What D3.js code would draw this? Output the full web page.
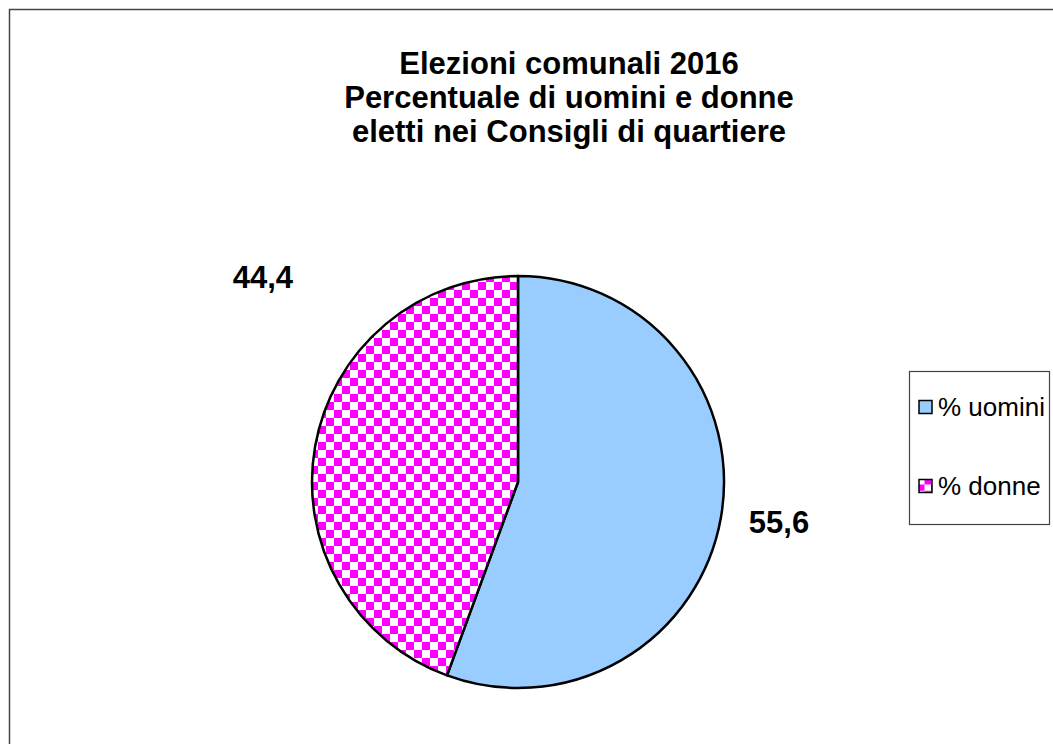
<!DOCTYPE html>
<html>
<head>
<meta charset="utf-8">
<script src="https://cdn.jsdelivr.net/npm/d3@7"></script>
<style>
  html, body { margin: 0; padding: 0; background: #fff; }
  svg { display: block; font-family: Arial, 'Liberation Sans', Helvetica, sans-serif; }
</style>
</head>
<body>
<div id="chart"></div>
<script>
// data
const categories = ['% uomini', '% donne']
const values = [55.6, 44.4]
const valueLabels = ['55,6', '44,4']
const titleLines = [
  'Elezioni comunali 2016',
  'Percentuale di uomini e donne',
  'eletti nei Consigli di quartiere'
]

const width = 1053
const height = 744
const cx = 518
const cy = 482
const radius = 206

const svg = d3.select('#chart')
  .append('svg')
  .attr('width', width)
  .attr('height', height)

// checker pattern for the second slice
const defs = svg.append('defs')
const pat = defs.append('pattern')
  .attr('id', 'checker')
  .attr('patternUnits', 'userSpaceOnUse')
  .attr('width', 16)
  .attr('height', 16)
pat.append('rect').attr('width', 16).attr('height', 16).attr('fill', '#fff')
pat.append('rect').attr('width', 8).attr('height', 8).attr('fill', '#ff00ff')
pat.append('rect').attr('x', 8).attr('y', 8).attr('width', 8).attr('height', 8).attr('fill', '#ff00ff')

const fills = ['#99ccff', 'url(#checker)']

// chart area border (only top and left visible)
svg.append('path')
  .attr('d', `M9.5,${height} L9.5,9.5 L${width},9.5`)
  .attr('fill', 'none')
  .attr('stroke', '#444')
  .attr('stroke-width', 1.5)

// title
svg.append('g')
  .selectAll('text')
  .data(titleLines)
  .join('text')
  .attr('x', 569)
  .attr('y', (d, i) => 74 + i * 34)
  .attr('text-anchor', 'middle')
  .attr('font-size', 31)
  .attr('font-weight', 'bold')
  .text(d => d)

// pie
const pie = d3.pie().sort(null).value(d => d)
const arcs = pie(values)
const arc = d3.arc().innerRadius(0).outerRadius(radius)

const g = svg.append('g').attr('transform', `translate(${cx},${cy})`)
g.selectAll('path')
  .data(arcs)
  .join('path')
  .attr('d', arc)
  .attr('fill', (d, i) => fills[i])
  .attr('stroke', '#000')
  .attr('stroke-width', 2.5)
  .attr('stroke-linejoin', 'round')

// value labels outside the pie (excel-like placement: radius and angle shift per label)
const labelPlace = [
  { r: radius + 58, shift: -0.025 },
  { r: radius + 121, shift: 0.5 }
]
const labelPos = (d) => {
  const p = labelPlace[d.index]
  const a = (d.startAngle + d.endAngle) / 2 + p.shift
  return [Math.sin(a) * p.r, -Math.cos(a) * p.r]
}
g.selectAll('text.val')
  .data(arcs)
  .join('text')
  .attr('class', 'val')
  .attr('x', d => labelPos(d)[0])
  .attr('y', d => labelPos(d)[1] + 11)
  .attr('text-anchor', 'middle')
  .attr('font-size', 31)
  .attr('font-weight', 'bold')
  .text((d, i) => valueLabels[i])

// legend
const legend = svg.append('g').attr('transform', 'translate(909,371)')
legend.append('rect')
  .attr('x', 0.5).attr('y', 0.5)
  .attr('width', 140).attr('height', 153)
  .attr('fill', '#fff')
  .attr('stroke', '#444')
  .attr('stroke-width', 1.2)

const legendFills = ['#99ccff', 'url(#checkerSmall)']
const pat2 = defs.append('pattern')
  .attr('id', 'checkerSmall')
  .attr('patternUnits', 'userSpaceOnUse')
  .attr('x', 919).attr('y', 479.5)
  .attr('width', 13).attr('height', 13)
pat2.append('rect').attr('width', 13).attr('height', 13).attr('fill', '#fff')
pat2.append('rect').attr('width', 6.5).attr('height', 6.5).attr('fill', '#ff00ff')
pat2.append('rect').attr('x', 6.5).attr('y', 6.5).attr('width', 6.5).attr('height', 6.5).attr('fill', '#ff00ff')

const items = legend.selectAll('g.item')
  .data(categories)
  .join('g')
  .attr('class', 'item')
  .attr('transform', (d, i) => `translate(0,${36 + i * 79})`)

items.append('rect')
  .attr('x', 10).attr('y', -6.5)
  .attr('width', 13).attr('height', 13)
  .attr('fill', (d, i) => legendFills[i])
  .attr('stroke', '#000')
  .attr('stroke-width', 1.5)

items.append('text')
  .attr('x', 29)
  .attr('y', 9)
  .attr('font-size', 26)
  .text(d => d)
</script>
</body>
</html>
